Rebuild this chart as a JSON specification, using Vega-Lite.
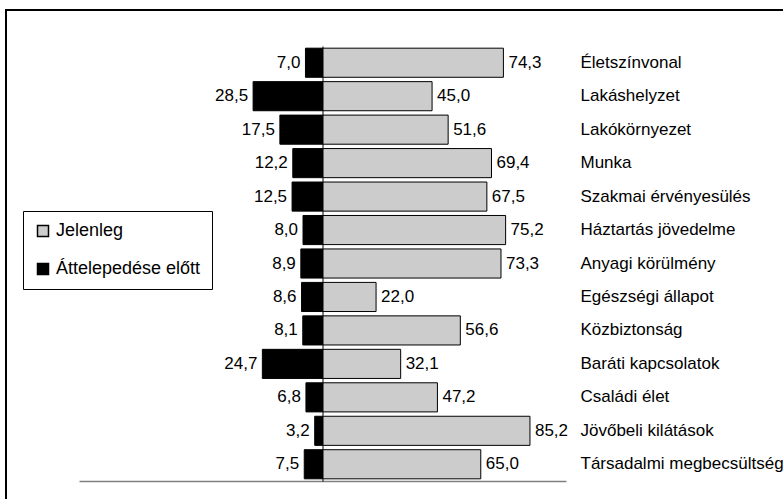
{
  "$schema": "https://vega.github.io/schema/vega-lite/v6.json",
  "width": 787,
  "height": 500,
  "autosize": {"type": "none"},
  "padding": {"left": 6, "top": 10, "right": -10, "bottom": -11},
  "config": {
    "view": {"stroke": "black", "strokeWidth": 2},
    "font": "Liberation Sans",
    "locale": {"number": {"decimal": ",", "thousands": " ", "grouping": [3], "currency": ["", ""]}},
    "text": {"font": "Liberation Sans", "fontSize": 17, "color": "black"}
  },
  "datasets": {
    "d": [
      {"cat": "Életszínvonal", "series": "Jelenleg", "value": 74.3},
      {"cat": "Lakáshelyzet", "series": "Jelenleg", "value": 45.0},
      {"cat": "Lakókörnyezet", "series": "Jelenleg", "value": 51.6},
      {"cat": "Munka", "series": "Jelenleg", "value": 69.4},
      {"cat": "Szakmai érvényesülés", "series": "Jelenleg", "value": 67.5},
      {"cat": "Háztartás jövedelme", "series": "Jelenleg", "value": 75.2},
      {"cat": "Anyagi körülmény", "series": "Jelenleg", "value": 73.3},
      {"cat": "Egészségi állapot", "series": "Jelenleg", "value": 22.0},
      {"cat": "Közbiztonság", "series": "Jelenleg", "value": 56.6},
      {"cat": "Baráti kapcsolatok", "series": "Jelenleg", "value": 32.1},
      {"cat": "Családi élet", "series": "Jelenleg", "value": 47.2},
      {"cat": "Jövőbeli kilátások", "series": "Jelenleg", "value": 85.2},
      {"cat": "Társadalmi megbecsültség", "series": "Jelenleg", "value": 65.0},
      {"cat": "Életszínvonal", "series": "Áttelepedése előtt", "value": 7.0},
      {"cat": "Lakáshelyzet", "series": "Áttelepedése előtt", "value": 28.5},
      {"cat": "Lakókörnyezet", "series": "Áttelepedése előtt", "value": 17.5},
      {"cat": "Munka", "series": "Áttelepedése előtt", "value": 12.2},
      {"cat": "Szakmai érvényesülés", "series": "Áttelepedése előtt", "value": 12.5},
      {"cat": "Háztartás jövedelme", "series": "Áttelepedése előtt", "value": 8.0},
      {"cat": "Anyagi körülmény", "series": "Áttelepedése előtt", "value": 8.9},
      {"cat": "Egészségi állapot", "series": "Áttelepedése előtt", "value": 8.6},
      {"cat": "Közbiztonság", "series": "Áttelepedése előtt", "value": 8.1},
      {"cat": "Baráti kapcsolatok", "series": "Áttelepedése előtt", "value": 24.7},
      {"cat": "Családi élet", "series": "Áttelepedése előtt", "value": 6.8},
      {"cat": "Jövőbeli kilátások", "series": "Áttelepedése előtt", "value": 3.2},
      {"cat": "Társadalmi megbecsültség", "series": "Áttelepedése előtt", "value": 7.5}
    ]
  },
  "data": {"name": "d"},
  "layer": [
    {
      "transform": [{"filter": "datum.series === 'Áttelepedése előtt'"}],
      "encoding": {
        "y": {
          "field": "cat", "type": "nominal", "sort": null,
          "scale": {"range": [36, 471], "paddingInner": 0.13, "paddingOuter": 0.065},
          "axis": {"orient": "left", "offset": -316.5, "labels": false, "title": null, "domainColor": "black", "tickColor": "black", "tickSize": 3, "zindex": 1, "grid": false}
        },
        "x": {"field": "value", "type": "quantitative", "scale": {"domain": [0, 100], "range": [316.5, 73], "nice": false}, "axis": null}
      },
      "layer": [
        {
          "mark": {"type": "bar", "stroke": "black"},
          "encoding": {
            "color": {
              "field": "series", "type": "nominal",
              "scale": {"domain": ["Jelenleg", "Áttelepedése előtt"], "range": ["#cccccc", "#000000"]},
              "legend": {"orient": "none", "legendX": 17, "legendY": 201, "title": null, "strokeColor": "black", "padding": 11, "symbolType": "square", "symbolSize": 121, "symbolStrokeColor": "black", "labelFontSize": 18, "labelColor": "black", "labelFont": "Liberation Sans", "rowPadding": 20}
            }
          }
        },
        {
          "mark": {"type": "text", "align": "right", "baseline": "middle", "dx": -5},
          "encoding": {"text": {"field": "value", "type": "quantitative", "format": ".1f"}}
        }
      ]
    },
    {
      "transform": [{"filter": "datum.series === 'Jelenleg'"}],
      "encoding": {
        "y": {
          "field": "cat", "type": "nominal", "sort": null,
          "axis": {"orient": "right", "offset": -227, "domain": false, "ticks": false, "labelPadding": 14, "labelFontSize": 17, "labelFont": "Liberation Sans", "labelColor": "black", "labelAlign": "left", "labelLimit": 0, "title": null, "grid": false}
        },
        "x": {
          "field": "value", "type": "quantitative",
          "scale": {"domain": [-100, 100], "range": [73, 560], "nice": false},
          "axis": {"orient": "bottom", "offset": -29, "ticks": false, "labels": false, "grid": false, "title": null, "domainColor": "#808080", "domainWidth": 1.5}
        }
      },
      "layer": [
        {
          "mark": {"type": "bar", "stroke": "black"},
          "encoding": {
            "color": {
              "field": "series", "type": "nominal",
              "scale": {"domain": ["Jelenleg", "Áttelepedése előtt"], "range": ["#cccccc", "#000000"]}
            }
          }
        },
        {
          "mark": {"type": "text", "align": "left", "baseline": "middle", "dx": 5},
          "encoding": {"text": {"field": "value", "type": "quantitative", "format": ".1f"}}
        }
      ]
    }
  ],
  "resolve": {"scale": {"x": "independent"}, "axis": {"y": "independent"}}
}
